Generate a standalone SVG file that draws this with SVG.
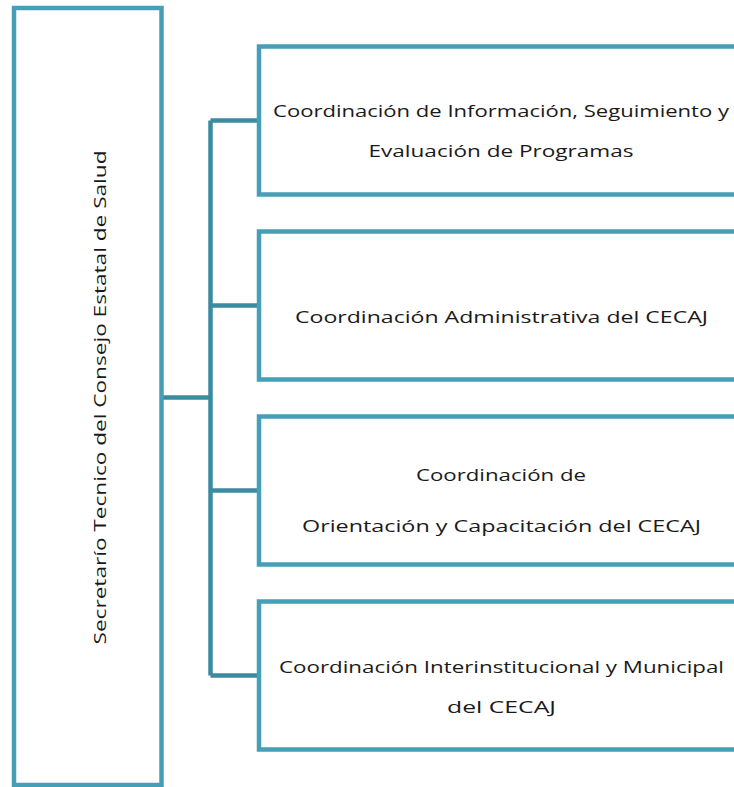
<svg xmlns="http://www.w3.org/2000/svg" width="734" height="787" viewBox="0 0 734 787">
<style>
.box{fill:#ffffff;stroke:#459fb7;stroke-width:4.5}
.conn{fill:none;stroke:#3b8ba0;stroke-width:4.5}
.t{font-family:"Open Sans","Liberation Sans",sans-serif;font-size:17px;fill:#1a1a1a;text-anchor:middle}
</style>
<rect width="734" height="787" fill="#ffffff"/>
<g id="connectors">
<path class="conn" d="M161.5 397.5 H210.5 M210.5 120.5 V675.5 M210.5 120.5 H259 M210.5 305.5 H259 M210.5 490.5 H259 M210.5 675.5 H259"/>
</g>
<g id="secretario">
<rect class="box" x="14" y="8" width="147.5" height="777"/>
<text class="t" transform="translate(106 397.5) rotate(-90)" x="0" y="0" textLength="494" lengthAdjust="spacingAndGlyphs">Secretarío Tecnico del Consejo Estatal de Salud</text>
</g>
<g id="coord1">
<rect class="box" x="259" y="46.5" width="490" height="148"/>
<text class="t" x="501" y="117" textLength="456" lengthAdjust="spacingAndGlyphs">Coordinación de Información, Seguimiento y</text>
<text class="t" x="501" y="157" textLength="265" lengthAdjust="spacingAndGlyphs">Evaluación de Programas</text>
</g>
<g id="coord2">
<rect class="box" x="259" y="231.5" width="490" height="148"/>
<text class="t" x="501.5" y="323" textLength="413" lengthAdjust="spacingAndGlyphs">Coordinación Administrativa del CECAJ</text>
</g>
<g id="coord3">
<rect class="box" x="259" y="416.5" width="490" height="148"/>
<text class="t" x="501" y="481" textLength="170" lengthAdjust="spacingAndGlyphs">Coordinación de</text>
<text class="t" x="501.5" y="532" textLength="399" lengthAdjust="spacingAndGlyphs">Orientación y Capacitación del CECAJ</text>
</g>
<g id="coord4">
<rect class="box" x="259" y="601.5" width="490" height="148"/>
<text class="t" x="501.5" y="673" textLength="445" lengthAdjust="spacingAndGlyphs">Coordinación Interinstitucional y Municipal</text>
<text class="t" x="501.5" y="713" textLength="109" lengthAdjust="spacingAndGlyphs">del CECAJ</text>
</g>
</svg>
